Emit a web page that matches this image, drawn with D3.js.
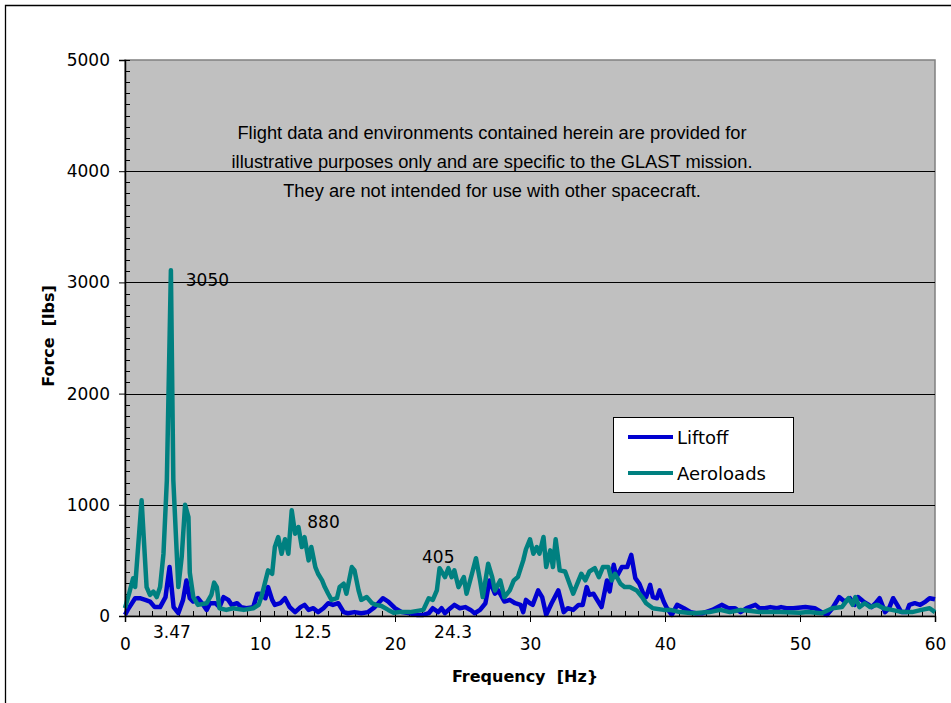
<!DOCTYPE html>
<html><head><meta charset="utf-8">
<script src="https://cdn.jsdelivr.net/npm/d3@7"></script>
<style>body{margin:0;background:#fff}svg{display:block}</style>
</head><body>
<svg id="c" width="951" height="703"></svg>
<script>
const xTicks = [0, 10, 20, 30, 40, 50, 60];
const yTicks = [0, 1000, 2000, 3000, 4000, 5000];
const peakLabels = ["3.47", "12.5", "24.3"];
const peakLabelFreq = [3.47, 13.9, 24.3];
const annotations = ["3050", "880", "405"];
const annotationFreq = [4.5, 13.5, 22.0];
const annotationForce = [2970, 790, 480];
const noteLines = [
  "Flight data and environments contained herein are provided for",
  "illustrative purposes only and are specific to the GLAST mission.",
  "They are not intended for use with other spacecraft."
];
const seriesNames = ["Liftoff", "Aeroloads"];

const liftoffFreq = [0,0.2,0.75,1.1,1.5,1.85,2.2,2.6,3.0,3.3,3.6,3.95,4.3,4.55,4.8,5.05,5.4,5.8,6.05,6.3,6.7,7.0,7.3,7.65,7.9,8.3,8.6,9.0,9.5,9.8,10.0,10.4,10.6,10.9,11.1,11.5,11.85,12.2,12.6,13.0,13.3,13.6,13.95,14.3,14.7,15.05,15.4,15.8,16.2,16.5,17.0,17.5,18.0,18.5,19.1,19.5,20.0,20.5,21.1,21.6,22.1,22.5,22.8,23.2,23.45,23.7,24.1,24.4,24.8,25.2,25.6,25.9,26.3,26.7,27.0,27.4,27.65,28.1,28.5,28.9,29.3,29.5,29.7,30.0,30.2,30.6,30.9,31.2,31.6,32.1,32.5,32.8,33.2,33.6,33.9,34.2,34.4,34.7,34.9,35.3,35.7,35.9,36.2,36.4,36.8,37.2,37.5,37.8,38.1,38.4,38.6,38.9,39.1,39.4,39.6,39.9,40.1,40.5,40.9,41.4,41.9,42.3,42.8,43.5,44.2,44.7,45.2,45.6,46.05,46.7,47.0,47.4,47.8,48.3,48.6,49.0,49.5,50.4,51.1,51.6,52.0,52.4,52.9,53.3,53.7,54.05,54.3,54.7,55.1,55.3,55.6,55.9,56.3,56.6,56.9,57.2,57.5,57.9,58.1,58.5,58.9,59.3,59.6,60];
const liftoffForce = [10,55,160,160,145,130,80,80,170,440,80,25,145,320,160,130,160,100,55,115,115,80,170,145,100,115,80,70,80,200,200,160,260,145,100,115,160,80,35,80,100,55,70,35,70,115,100,115,35,25,35,25,35,80,160,130,70,35,25,10,10,25,70,35,70,25,70,100,70,80,55,25,55,115,320,200,230,130,145,115,100,35,145,115,100,230,170,10,115,230,35,70,55,100,100,260,190,200,160,80,320,220,460,350,440,440,550,340,290,200,170,280,170,160,230,130,80,10,100,70,35,25,25,55,100,70,70,35,70,100,70,70,80,70,80,70,70,80,70,35,10,70,170,130,160,100,170,130,100,80,115,160,35,70,160,100,35,35,100,115,100,130,160,150];

const aeroFreq = [0,0.3,0.6,0.75,1.23,1.6,1.85,2.1,2.35,2.6,2.85,3.1,3.4,3.58,3.95,4.2,4.45,4.7,4.8,5.06,5.4,6.05,6.4,6.6,6.8,7.0,7.5,8.0,8.8,9.5,9.9,10.1,10.6,10.9,11.1,11.35,11.6,11.85,12.1,12.35,12.6,12.85,13.1,13.3,13.6,13.8,14.1,14.3,14.6,14.8,15.05,15.3,15.7,15.9,16.2,16.4,16.8,17.0,17.3,17.5,17.9,18.3,18.6,19.0,19.5,19.9,20.4,21.1,22.1,22.5,22.8,23.1,23.3,23.7,23.95,24.2,24.4,24.7,25.1,25.3,25.7,26.0,26.3,26.5,26.9,27.2,27.4,27.8,28.1,28.5,28.8,29.1,29.5,29.7,30.0,30.25,30.5,30.7,31.0,31.2,31.5,31.7,31.9,32.2,32.6,33.2,33.6,33.8,34.1,34.4,34.8,35.1,35.4,35.8,36.05,36.3,36.7,37.0,37.4,37.9,38.3,38.6,39.1,39.9,40.4,41.1,42.1,43.3,44.1,44.8,45.6,47.0,48.5,50.0,50.6,51.6,52.4,53.1,53.6,53.9,54.1,54.4,54.8,55.2,55.7,56.2,56.8,57.6,58.3,59.0,59.6,60];
const aeroForce = [70,200,340,260,1040,260,190,220,170,260,560,1220,3110,1220,260,530,1000,890,390,170,100,115,190,300,260,70,55,70,55,70,100,170,410,380,620,710,560,690,560,950,740,800,620,710,500,620,440,380,320,260,200,145,160,260,290,200,440,410,230,145,170,115,100,90,55,30,35,35,55,160,145,230,430,350,430,350,410,260,350,200,380,520,320,170,470,350,230,320,170,230,320,350,500,600,690,560,620,560,710,440,590,440,690,410,400,200,320,380,320,400,430,350,440,440,320,380,290,260,260,230,170,115,70,55,55,35,25,35,55,35,55,35,35,30,35,25,70,80,160,100,170,80,115,80,100,70,55,35,35,55,70,35];

const svg = d3.select("#c");
const L = 125, R = 935, T = 60, B = 616;
const x = d3.scaleLinear().domain([0, 60]).range([L, R]);
const y = d3.scaleLinear().domain([0, 5000]).range([B, T]);
const tickFont = "'DejaVu Sans', Verdana, sans-serif";

// outer frame
svg.append("path").attr("d", "M5.5,703 V5.5 H951").attr("fill", "none").attr("stroke", "#000").attr("stroke-width", 1.3);

// plot area
svg.append("rect").attr("x", L).attr("y", T).attr("width", R - L).attr("height", B - T)
  .attr("fill", "#c0c0c0").attr("stroke", "#808080").attr("stroke-width", 1.5);

// gridlines
svg.append("g").selectAll("line").data(yTicks.filter(d => d > 0 && d < 5000)).join("line")
  .attr("x1", L).attr("x2", R).attr("y1", d => Math.round(y(d)) + 0.5).attr("y2", d => Math.round(y(d)) + 0.5)
  .attr("stroke", "#000").attr("stroke-width", 1);

// minor ticks
const yMinor = d3.range(0, 5001, 100);
svg.append("g").selectAll("line").data(yMinor).join("line")
  .attr("x1", L).attr("x2", L + 5).attr("y1", d => Math.round(y(d)) + 0.5).attr("y2", d => Math.round(y(d)) + 0.5)
  .attr("stroke", "#000");
const xMinor = d3.range(0, 61, 1);
svg.append("g").selectAll("line").data(xMinor).join("line")
  .attr("x1", d => Math.round(x(d)) + 0.5).attr("x2", d => Math.round(x(d)) + 0.5).attr("y1", B).attr("y2", B - 5)
  .attr("stroke", "#000");

// series
const liftoff = liftoffFreq.map((f, i) => [f, liftoffForce[i]]);
const aero = aeroFreq.map((f, i) => [f, aeroForce[i]]);
const line = d3.line().x(d => x(d[0])).y(d => y(d[1]));
svg.append("path").datum(liftoff).attr("d", line).attr("fill", "none").attr("stroke", "#0000d0")
  .attr("stroke-width", 4.5).attr("stroke-linejoin", "round");
svg.append("path").datum(aero).attr("d", line).attr("fill", "none").attr("stroke", "#008080")
  .attr("stroke-width", 4.5).attr("stroke-linejoin", "round");

// axes
const yAxis = d3.axisLeft(y).tickValues(yTicks).tickSize(6).tickFormat(d3.format("d"));
const gy = svg.append("g").attr("transform", `translate(${L},0)`).call(yAxis);
const xAxis = d3.axisBottom(x).tickValues(xTicks).tickSize(6).tickFormat(d3.format("d"));
const gx = svg.append("g").attr("transform", `translate(0,${B})`).call(xAxis);
[gy, gx].forEach(g => {
  g.select(".domain").attr("stroke", "#000").attr("stroke-width", 1.5);
  g.selectAll(".tick line").attr("stroke", "#000");
  g.selectAll("text").attr("font-family", tickFont).attr("font-size", 17).attr("fill", "#000");
});
gy.selectAll("text").attr("x", -15);
gx.selectAll("text").attr("y", 22);

// secondary x labels
svg.append("g").selectAll("text").data(peakLabels).join("text")
  .attr("x", (d, i) => x(peakLabelFreq[i])).attr("y", 638).attr("text-anchor", "middle")
  .attr("font-family", tickFont).attr("font-size", 17).text(d => d);

// annotations
svg.append("g").selectAll("text").data(annotations).join("text")
  .attr("x", (d, i) => x(annotationFreq[i])).attr("y", (d, i) => y(annotationForce[i]))
  .attr("font-family", tickFont).attr("font-size", 17).text(d => d);

// axis titles
svg.append("text").attr("x", 525).attr("y", 682).attr("text-anchor", "middle")
  .attr("font-family", tickFont).attr("font-weight", "bold").attr("font-size", 16)
  .attr("xml:space", "preserve").text("Frequency  [Hz}");
svg.append("text").attr("transform", "translate(54,336) rotate(-90)").attr("text-anchor", "middle")
  .attr("font-family", tickFont).attr("font-weight", "bold").attr("font-size", 16)
  .attr("xml:space", "preserve").text("Force  [lbs]");

// note
svg.append("g").selectAll("text").data(noteLines).join("text")
  .attr("x", 492).attr("y", (d, i) => 139 + i * 29).attr("text-anchor", "middle")
  .attr("font-family", "'Liberation Sans', Arial, sans-serif").attr("font-size", 18.3).text(d => d);

// legend
const lg = svg.append("g");
lg.append("rect").attr("x", 613.5).attr("y", 417.5).attr("width", 180).attr("height", 75)
  .attr("fill", "#fff").attr("stroke", "#000").attr("stroke-width", 1);
const legColors = ["#0000d0", "#008080"];
seriesNames.forEach((n, i) => {
  const yy = 437 + i * 36;
  lg.append("line").attr("x1", 628).attr("x2", 673).attr("y1", yy).attr("y2", yy)
    .attr("stroke", legColors[i]).attr("stroke-width", 4);
  lg.append("text").attr("x", 677).attr("y", yy + 7).attr("font-family", tickFont)
    .attr("font-size", 18).text(n);
});
</script>
</body></html>
